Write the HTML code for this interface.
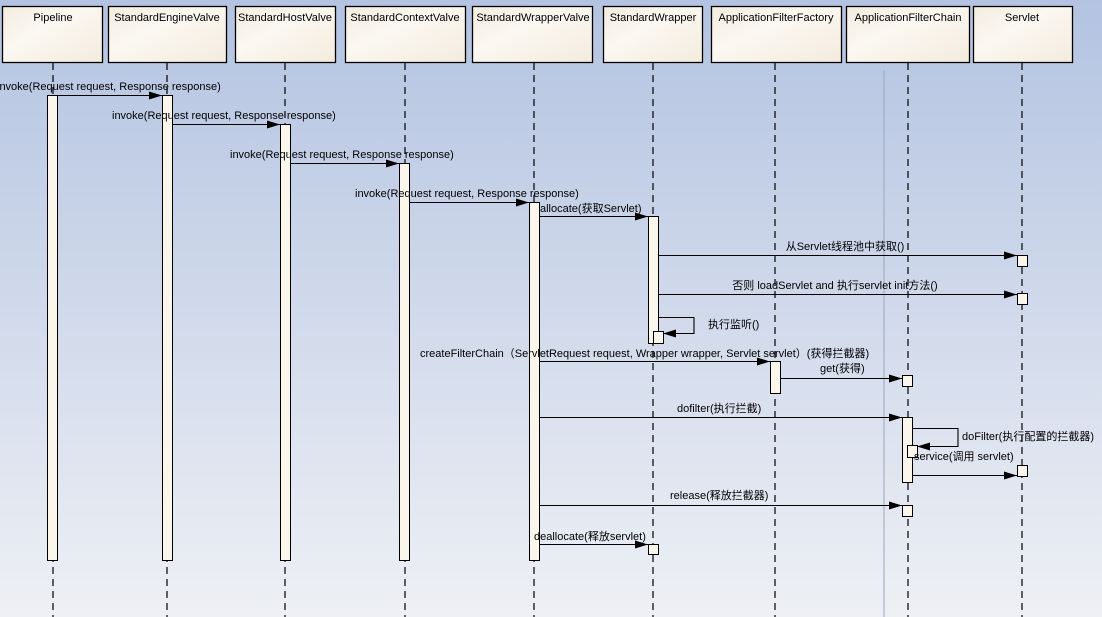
<!DOCTYPE html>
<html><head><meta charset="utf-8"><style>
html,body{margin:0;padding:0;width:1102px;height:617px;overflow:hidden}
svg{display:block}
text{font-family:"Liberation Sans","Noto Sans CJK SC",sans-serif;font-size:11px;fill:#000}
</style></head><body>
<svg width="1102" height="617" xmlns="http://www.w3.org/2000/svg">
<defs>
<linearGradient id="bg" x1="0" y1="0" x2="0" y2="1"><stop offset="0" stop-color="#b3c3e1"/><stop offset="1" stop-color="#eef0f5"/></linearGradient>
<linearGradient id="hd" x1="0" y1="0" x2="1" y2="1"><stop offset="0" stop-color="#f3ece0"/><stop offset="0.4" stop-color="#fbf8f2"/><stop offset="1" stop-color="#f3ebdd"/></linearGradient>
<marker id="a" markerWidth="14" markerHeight="10" refX="13" refY="5" orient="auto" markerUnits="userSpaceOnUse"><path d="M0,1 L13,5 L0,9 Z" fill="#000"/></marker>
</defs>
<rect width="1102" height="617" fill="url(#bg)"/>
<line x1="884" y1="70" x2="884" y2="617" stroke="#9aa6bd" stroke-width="1"/>
<g stroke="#000" stroke-width="1.3" fill="url(#hd)">
<rect x="2.5" y="6.5" width="100" height="56"/>
<rect x="108.5" y="6.5" width="118" height="56"/>
<rect x="235.5" y="6.5" width="100" height="56"/>
<rect x="345.5" y="6.5" width="120" height="56"/>
<rect x="472.5" y="6.5" width="120" height="56"/>
<rect x="603.5" y="6.5" width="99" height="56"/>
<rect x="711.5" y="6.5" width="130" height="56"/>
<rect x="846.5" y="6.5" width="123" height="56"/>
<rect x="973.5" y="6.5" width="99" height="56"/>
</g>
<g text-anchor="middle">
<text x="53" y="21">Pipeline</text><text x="167" y="21">StandardEngineValve</text>
<text x="285" y="21">StandardHostValve</text><text x="405" y="21">StandardContextValve</text>
<text x="533" y="21">StandardWrapperValve</text><text x="653" y="21">StandardWrapper</text>
<text x="776" y="21">ApplicationFilterFactory</text><text x="908" y="21">ApplicationFilterChain</text>
<text x="1022" y="21">Servlet</text>
</g>
<g stroke="#000" stroke-width="1.2" stroke-dasharray="7,5">
<line x1="53" y1="63" x2="53" y2="617"/><line x1="167" y1="63" x2="167" y2="617"/>
<line x1="285" y1="63" x2="285" y2="617"/><line x1="405" y1="63" x2="405" y2="617"/>
<line x1="534" y1="63" x2="534" y2="617"/><line x1="653" y1="63" x2="653" y2="617"/>
<line x1="775" y1="63" x2="775" y2="617"/><line x1="908" y1="63" x2="908" y2="617"/>
<line x1="1022" y1="63" x2="1022" y2="617"/>
</g>
<g stroke="#000" stroke-width="1" fill="#fbf6ec">
<rect x="47.5" y="95.5" width="10" height="465"/>
<rect x="162.5" y="95.5" width="10" height="465"/>
<rect x="280.5" y="124.5" width="10" height="436"/>
<rect x="399.5" y="163.5" width="10" height="397"/>
<rect x="529.5" y="202.5" width="10" height="358"/>
<rect x="648.5" y="216.5" width="10" height="127"/>
<rect x="653.5" y="331.5" width="10" height="12"/>
<rect x="770.5" y="361.5" width="10" height="32"/>
<rect x="902.5" y="375.5" width="10" height="11"/>
<rect x="902.5" y="417.5" width="10" height="65"/>
<rect x="907.5" y="445.5" width="10" height="12"/>
<rect x="902.5" y="505.5" width="10" height="11"/>
<rect x="1017.5" y="255.5" width="10" height="11"/>
<rect x="1017.5" y="293.5" width="10" height="11"/>
<rect x="1017.5" y="465.5" width="10" height="11"/>
<rect x="648.5" y="544.5" width="10" height="10"/>
</g>
<g stroke="#000" stroke-width="1.1" fill="none" marker-end="url(#a)">
<line x1="57" y1="95.5" x2="162" y2="95.5"/>
<line x1="172" y1="124.5" x2="280" y2="124.5"/>
<line x1="290" y1="163.5" x2="399" y2="163.5"/>
<line x1="409" y1="202.5" x2="529" y2="202.5"/>
<line x1="539" y1="216.5" x2="648" y2="216.5"/>
<line x1="658" y1="255.5" x2="1017" y2="255.5"/>
<line x1="658" y1="294.5" x2="1017" y2="294.5"/>
<polyline points="658,317.5 694,317.5 694,333.5 663,333.5"/>
<line x1="539" y1="361.5" x2="770" y2="361.5"/>
<line x1="780" y1="378.5" x2="902" y2="378.5"/>
<line x1="539" y1="417.5" x2="902" y2="417.5"/>
<polyline points="912,428.5 958,428.5 958,446.5 917,446.5"/>
<line x1="912" y1="475.5" x2="1017" y2="475.5"/>
<line x1="539" y1="505.5" x2="902" y2="505.5"/>
<line x1="539" y1="544.5" x2="648" y2="544.5"/>
</g>
<text x="-3" y="90">invoke(Request request, Response response)</text>
<text x="112" y="119">invoke(Request request, Response response)</text>
<text x="230" y="158">invoke(Request request, Response response)</text>
<text x="355" y="197">invoke(Request request, Response response)</text>
<text x="540" y="212">allocate(获取Servlet)</text>
<text x="845" y="250" text-anchor="middle">从Servlet线程池中获取()</text>
<text x="835" y="289" text-anchor="middle">否则 loadServlet and 执行servlet init方法()</text>
<text x="708" y="328">执行监听()</text>
<text x="420" y="357">createFilterChain（ServletRequest request, Wrapper wrapper, Servlet servlet）(获得拦截器)</text>
<text x="820" y="372">get(获得)</text>
<text x="677" y="412">dofilter(执行拦截)</text>
<text x="962" y="440">doFilter(执行配置的拦截器)</text>
<text x="914" y="460">service(调用 servlet)</text>
<text x="670" y="499">release(释放拦截器)</text>
<text x="534" y="540">deallocate(释放servlet)</text>
</svg>
</body></html>
